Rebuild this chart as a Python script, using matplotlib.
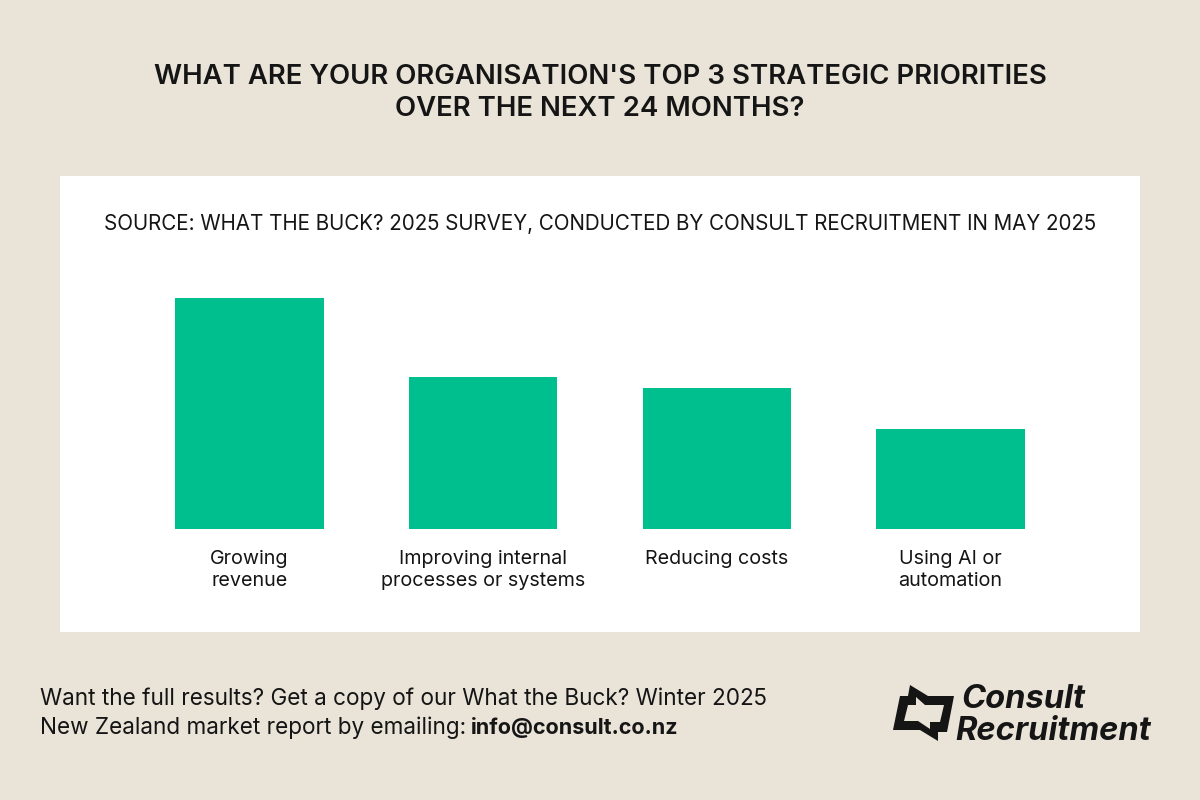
import matplotlib
matplotlib.use("Agg")
import matplotlib.pyplot as plt
from matplotlib.patches import Rectangle, PathPatch
from matplotlib.path import Path

categories = ["Growing\nrevenue", "Improving internal\nprocesses or systems", "Reducing costs", "Using AI or\nautomation"]
values = [46.0, 30.3, 28.1, 19.9]
title = "WHAT ARE YOUR ORGANISATION'S TOP 3 STRATEGIC PRIORITIES\nOVER THE NEXT 24 MONTHS?"
source = "SOURCE: WHAT THE BUCK? 2025 SURVEY, CONDUCTED BY CONSULT RECRUITMENT IN MAY 2025"

BG = "#E9E3D8"; INK = "#151515"; GREEN = "#00BF8F"
plt.rcParams["font.family"] = "Inter"
W, H = 1200, 800
fig = plt.figure(figsize=(12, 8), dpi=100, facecolor=BG)

def fx(x): return x / W
def fy(y): return 1 - y / H

fig.add_artist(Rectangle((fx(60), fy(632)), 1080 / W, 456 / H, transform=fig.transFigure, fc="white", ec="none", zorder=-5))

ax = fig.add_axes([fx(132.7), fy(529), 934.7 / W, 240 / H])
ax.patch.set_alpha(0)
ax.bar(range(len(values)), values, width=0.634, color=GREEN)
ax.set_xlim(-0.5, 3.5)
ax.set_ylim(0, 240 / 5.02)
ax.set_yticks([])
ax.set_xticks(range(len(categories)))
ax.set_xticklabels(categories, fontsize=14.2, color=INK, linespacing=1.3, va="top")
ax.tick_params(axis="x", length=0, pad=15)
for s in ax.spines.values():
    s.set_visible(False)

fig.text(fx(600), fy(93), title, ha="center", va="center", fontsize=19.85, fontweight="semibold", color=INK, linespacing=1.34)
fig.text(fx(600), fy(224), source, ha="center", va="center", fontsize=14.83, color=INK)

fig.text(fx(40), fy(699), "Want the full results? Get a copy of our What the Buck? Winter 2025", ha="left", va="center", fontsize=16.2, color=INK)
fig.text(fx(40), fy(728), "New Zealand market report by emailing: ", ha="left", va="center", fontsize=16.2, color=INK)
fig.text(fx(471), fy(728), "info@consult.co.nz", ha="left", va="center", fontsize=15.5, fontweight="bold", color=INK)

# logo mark
outer = [(910, 685), (928, 696), (954, 696), (947, 732), (938, 732), (938, 741), (920, 730), (893, 730), (900, 696), (908, 696)]
inner = [(916, 697), (925, 705), (944, 705), (940, 722), (930, 722), (930, 729), (918, 721), (904, 721), (908, 705), (916, 705)]
verts, codes = [], []
for poly in (outer, inner[::-1]):
    verts += [(fx(x), fy(y)) for x, y in poly] + [(fx(poly[0][0]), fy(poly[0][1]))]
    codes += [Path.MOVETO] + [Path.LINETO] * (len(poly) - 1) + [Path.CLOSEPOLY]
fig.add_artist(PathPatch(Path(verts, codes), transform=fig.transFigure, fc=INK, ec="none"))
fig.text(fx(961), fy(700), "Consult", ha="left", va="center", fontsize=23.5, fontweight="bold", style="italic", color=INK)
fig.text(fx(955), fy(731), "Recruitment", ha="left", va="center", fontsize=23.5, fontweight="bold", style="italic", color=INK)

fig.savefig("out.png", dpi=100, facecolor=BG)
